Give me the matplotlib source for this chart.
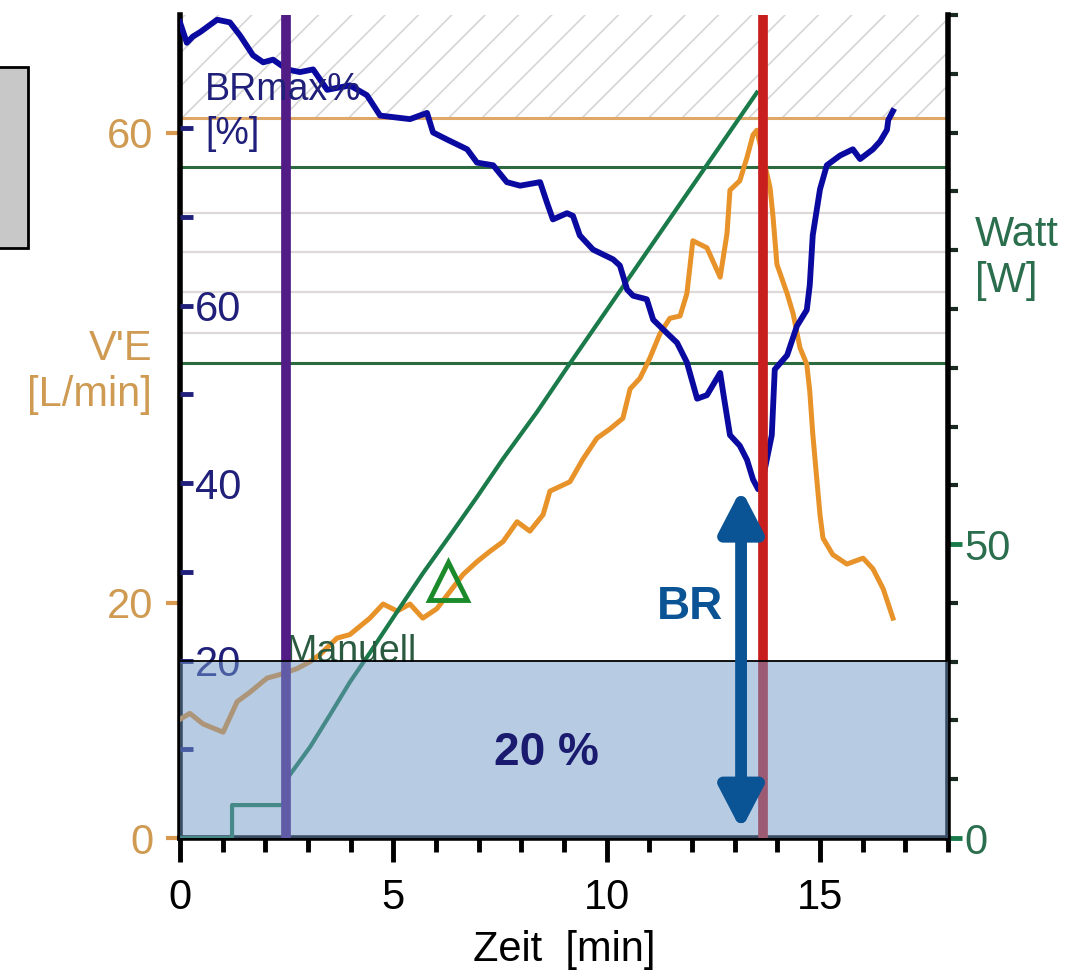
import matplotlib
matplotlib.use('Agg')
import matplotlib.pyplot as plt
from matplotlib.ticker import MultipleLocator, FixedLocator
from matplotlib.patches import Rectangle

plt.rcParams['font.family'] = ['Liberation Sans', 'DejaVu Sans']
plt.rcParams['hatch.linewidth'] = 1.2

# --- data ---
# breathing reserve BR [%]
t_br = [0, 0.16, 0.30, 0.47, 0.87, 1.17, 1.41, 1.71, 1.95, 2.18, 2.51, 2.81, 3.12, 3.45,
        3.98, 4.38, 4.69, 5.39, 5.79, 5.93, 6.26, 6.73, 6.96, 7.34, 7.66, 7.97, 8.44, 8.60,
        8.74, 9.07, 9.21, 9.37, 9.68, 10.15, 10.31, 10.48, 10.62, 10.94, 11.09, 11.41, 11.65,
        11.88, 12.12, 12.35, 12.66, 12.73, 12.89, 13.12, 13.29, 13.43, 13.55, 13.62, 13.87,
        13.94, 14.23, 14.46, 14.69, 14.76, 14.83, 15.00, 15.16, 15.47, 15.77, 15.94, 16.24,
        16.41, 16.57, 16.60, 16.71]
br = [91.9, 89.6, 90.3, 90.8, 92.2, 91.9, 90.4, 88.2, 87.4, 87.7, 86.6, 86.3, 86.6, 84.3,
      84.8, 83.7, 81.4, 81.0, 81.7, 79.5, 78.7, 77.6, 76.1, 75.8, 73.9, 73.5, 73.9, 71.6,
      69.7, 70.4, 70.1, 67.9, 66.3, 65.2, 64.5, 61.8, 61.1, 60.7, 58.4, 56.9, 55.8,
      53.6, 49.5, 49.9, 52.4, 50.2, 45.4, 44.2, 42.6, 40.4, 39.3, 39.5, 45.4,
      52.8, 54.4, 57.7, 59.5, 62.3, 67.9, 73.1, 75.8, 76.9, 77.6, 76.5, 77.6,
      78.5, 79.8, 80.9, 81.9]

# ventilation V'E [L/min]
t_ve = [0, 0.23, 0.54, 1.01, 1.34, 1.64, 2.04, 2.34, 2.74, 3.05, 3.28, 3.68, 3.98, 4.45,
        4.76, 5.09, 5.39, 5.69, 6.02, 6.63, 6.96, 7.27, 7.57, 7.90, 8.20, 8.51, 8.67, 9.14,
        9.44, 9.77, 10.08, 10.38, 10.55, 10.78, 11.01, 11.25, 11.48, 11.72, 11.88, 12.02,
        12.35, 12.66, 12.82, 12.89, 13.12, 13.29, 13.43, 13.52, 13.83, 13.90, 13.99, 14.23,
        14.37, 14.53, 14.69, 14.76, 14.83, 14.93, 15.00, 15.07, 15.30, 15.63, 16.01, 16.24,
        16.48, 16.71]
ve = [10.1, 10.6, 9.7, 9.0, 11.6, 12.4, 13.6, 13.9, 14.4, 15.0, 15.6, 17.0, 17.3, 18.7,
      19.9, 19.3, 19.9, 18.7, 19.5, 22.4, 23.5, 24.4, 25.2, 26.9, 26.1, 27.5, 29.5, 30.3,
      32.2, 34.0, 34.8, 35.7, 38.2, 39.1, 40.8, 42.9, 44.2, 44.4, 46.3, 50.8,
      50.2, 47.7, 51.4, 55.1, 55.9, 57.9, 59.8, 60.2, 55.3, 52.8, 48.8, 46.3,
      44.6, 41.7, 40.3, 38.0, 34.4, 30.3, 27.5, 25.5, 24.1, 23.3, 23.8, 22.9,
      21.2, 18.7]

# load [W]
t_w = [0, 1.22, 1.22, 2.48, 2.48, 2.58, 3.05, 3.52, 3.98, 4.45, 5.09, 5.69, 6.33, 6.96,
       7.57, 8.37, 9.07, 13.52]
watt = [0, 0, 5.6, 5.6, 10.0, 10.8, 15.5, 21.0, 26.5, 31.5, 38.5, 45.0, 51.5, 58.0,
        64.5, 72.5, 80.0, 126.8]

# reference lines (V'E units) and events
ve_max = 61.2
green_lines = [57.1, 40.4]
grey_lines = [53.2, 49.8, 46.4, 42.95]
t_start = 2.48      # start of ramp (purple)
t_stop = 13.66      # end of exercise (red)
br_limit = 20       # BR 20 %
t_manual, w_manual = 6.29, 43.7
t_arrow = 13.15

ve_ticks = [0, 20, 60]
br_ticks = [20, 40, 60]
br_minor = [10, 30, 50, 70, 80]
w_ticks = [0, 50]
x_ticks = [0, 5, 10, 15]

c_or = '#e8922a'
c_or_txt = '#cf9a52'
c_blue = '#0a0aa0'
c_navy = '#20207a'
c_green = '#1b7a4a'
c_green_txt = '#2b6e4e'

fig = plt.figure(figsize=(10.73, 9.8), dpi=100)
ax = fig.add_axes([180 / 1073, 142 / 980, 768 / 1073, 823 / 980])
ax.set_xlim(0, 18)
ax.set_ylim(0, 70)

# background: hatched area above V'E max, horizontal guide lines
ax.axhspan(ve_max, 70, facecolor='none', edgecolor='#d6d6d6', hatch='/', lw=0, zorder=0)
ax.axhline(ve_max, color='#e0a868', lw=2.2, zorder=1)
for g in grey_lines:
    ax.axhline(g, color='#ded8d8', lw=1.6, zorder=1)
for g in green_lines:
    ax.axhline(g, color='#2a6a3e', lw=2.2, zorder=1)
ax.plot(t_ve, ve, color=c_or, lw=3.6, zorder=3)

ax.set_yticks(ve_ticks)
ax.tick_params(axis='y', direction='out', length=10, width=3, colors='#d89a50',
               labelcolor=c_or_txt, labelsize=30, pad=9)
ax.set_xticks(x_ticks)
ax.xaxis.set_minor_locator(MultipleLocator(1))
ax.tick_params(axis='x', which='major', direction='out', length=17, width=3.5,
               labelsize=30, pad=12, colors='black')
ax.tick_params(axis='x', which='minor', direction='out', length=10, width=3.5)
for s in ['top', 'right']:
    ax.spines[s].set_visible(False)
ax.spines['left'].set_linewidth(4)
ax.spines['bottom'].set_linewidth(4)

# Watt axis (right)
ax_w = ax.twinx()
ax_w.set_ylim(0, 140)
ax_w.plot(t_w, watt, color=c_green, lw=3, zorder=3)
ax_w.plot([t_manual], [w_manual], marker='^', ms=28, mfc='none', mec='#1a8a2a',
          mew=3.5, zorder=4)
ax_w.text(t_start, 30, 'Manuell', color='#2a5a40', fontsize=27, ha='left',
          va='baseline', zorder=4)
ax_w.set_yticks(w_ticks)
ax_w.yaxis.set_minor_locator(FixedLocator(range(10, 141, 10)))
ax_w.tick_params(axis='y', which='major', direction='out', length=10, width=3.5,
                 colors=c_green, labelcolor=c_green_txt, labelsize=30, pad=2)
ax_w.tick_params(axis='y', which='minor', direction='out', length=7, width=3,
                 colors='#1a2a20')
for s in ['top', 'left', 'bottom']:
    ax_w.spines[s].set_visible(False)
ax_w.spines['right'].set_linewidth(4)

# BR axis (left, labels inside)
ax_br = ax.twinx()
ax_br.set_ylim(0, 823 / 8.875)
ax_br.yaxis.tick_left()
ax_br.set_yticks(br_ticks)
ax_br.yaxis.set_minor_locator(FixedLocator(br_minor))
ax_br.tick_params(axis='y', which='both', direction='in', length=9, width=3.5,
                  colors=c_navy, labelsize=30, pad=-44)
for s in ax_br.spines.values():
    s.set_visible(False)

ax_br.plot(t_br, br, color=c_blue, lw=4.2, zorder=3)
ax_br.axvline(t_start, color='#521c86', lw=7, zorder=4)
ax_br.axvline(t_stop, color='#c81e1e', lw=7, zorder=4)

# BR < 20 % area
ax_br.axhspan(0, br_limit, facecolor='#7199c9', alpha=0.5, lw=0, zorder=5)
ax_br.axhline(br_limit, color='black', lw=1.3, zorder=6)

ax_br.annotate('', xy=(t_arrow, 0.9), xytext=(t_arrow, min(br)),
               arrowprops=dict(arrowstyle='<|-|>,head_length=1.25,head_width=0.65',
                               color='#0a5394', lw=8.5, shrinkA=0, shrinkB=0,
                               mutation_scale=20), zorder=7)
ax_br.text(11.95, 26, 'BR', color='#0a5394', fontsize=33, fontweight='bold',
           ha='center', va='center', zorder=7)
ax_br.text(8.58, 9.6, '20 %', color='#1a1a6e', fontsize=33, fontweight='bold',
           ha='center', va='center', zorder=7)

# axis titles
fig.text(152 / 1073, 1 - 372 / 980, "V'E\n[L/min]", color=c_or_txt, fontsize=30,
         ha='right', va='center', multialignment='right', linespacing=1.2)
fig.text(975 / 1073, 1 - 258 / 980, "Watt\n[W]", color=c_green_txt, fontsize=30,
         ha='left', va='center', linespacing=1.2)
fig.text(205 / 1073, 1 - 72 / 980, "BRmax%\n[%]", color=c_navy, fontsize=27,
         ha='left', va='top', linespacing=1.3, zorder=10)
fig.text(564 / 1073, 1 - 950 / 980, "Zeit  [min]", color='black', fontsize=30,
         ha='center', va='center')

# grey box cut off at the left edge
fig.patches.append(Rectangle((-0.01, 1 - 248 / 980), 0.01 + 28 / 1073, 181 / 980,
                             transform=fig.transFigure, facecolor='#c8c8c8',
                             edgecolor='black', lw=2))

fig.savefig('out.png', dpi=100)
